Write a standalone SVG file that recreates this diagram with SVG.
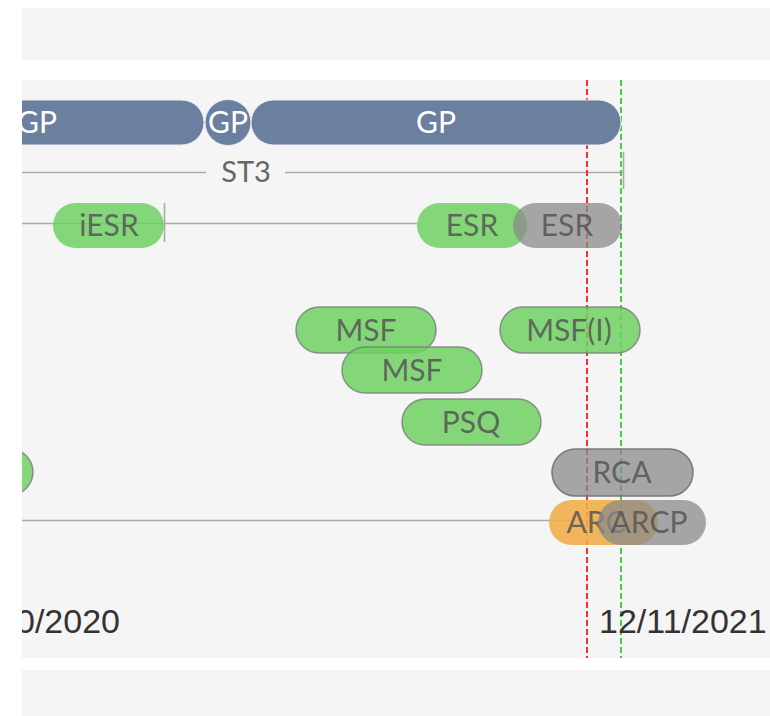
<svg xmlns="http://www.w3.org/2000/svg" width="770" height="716" viewBox="0 0 770 716">
<defs>
<clipPath id="panel"><rect x="22" y="80" width="748" height="578"/></clipPath>
<style>
.panel{fill:#f5f5f5}
.gp{fill:#6b7f9e;stroke:#e8ecf2;stroke-width:1}
.gpt{font-family:Lato,"Open Sans",sans-serif;font-size:30px;fill:#ffffff;text-anchor:middle}
.lbl{font-family:Lato,"Open Sans",sans-serif;font-size:30px;fill:#555555;fill-opacity:0.85;text-anchor:middle}
.st{font-family:Lato,"Open Sans",sans-serif;font-size:29px;fill:#666;text-anchor:middle}
.green{fill:#6fd162;fill-opacity:0.85}
.greenb{fill:#6fd162;fill-opacity:0.85;stroke:#7a7a7a;stroke-opacity:0.8;stroke-width:1.5}
.gray{fill:#8a8a8a;fill-opacity:0.75}
.grayb{fill:#8a8a8a;fill-opacity:0.75;stroke:#7a7a7a;stroke-width:1.5}
.orange{fill:#f0ad45;fill-opacity:0.88}
.tl{stroke:#aaaaaa;stroke-width:1.6;fill:none}
.date{font-family:"Liberation Sans",Arial,sans-serif;font-size:34px;fill:#333333}
</style>
</defs>
<rect class="panel" x="22" y="8" width="748" height="52"/>
<rect class="panel" x="22" y="80" width="748" height="578"/>
<rect class="panel" x="22" y="670" width="748" height="46"/>
<g clip-path="url(#panel)">
<g id="connectors">
<line class="tl" x1="22" y1="172.5" x2="206" y2="172.5"/>
<line class="tl" x1="285" y1="172.5" x2="623" y2="172.5"/>
<line class="tl" x1="623.5" y1="152" x2="623.5" y2="189"/>
<line class="tl" x1="22" y1="223.5" x2="417" y2="223.5"/>
<line class="tl" x1="164.5" y1="203" x2="164.5" y2="242"/>
<line class="tl" x1="22" y1="520.5" x2="612" y2="520.5"/>
<line x1="587" y1="80" x2="587" y2="658" stroke="#ff2a2a" stroke-width="2" stroke-dasharray="6 3"/>
<line x1="621" y1="80" x2="621" y2="658" stroke="#44cc44" stroke-width="2" stroke-dasharray="6 3"/>
</g>
<g id="gp1"><rect class="gp" x="-130" y="100" width="334" height="45" rx="22.5"/><text class="gpt" x="37" y="133">GP</text></g>
<g id="gp2"><circle class="gp" cx="228" cy="122.5" r="23"/><text class="gpt" x="228" y="133">GP</text></g>
<g id="gp3"><rect class="gp" x="251" y="100" width="370" height="45" rx="22.5"/><text class="gpt" x="436" y="133">GP</text></g>
<g id="st3"><text class="st" x="246" y="182">ST3</text></g>
<g id="iesr"><rect class="green" x="53" y="203" width="111" height="45" rx="22.5"/><text class="lbl" x="109" y="236">iESR</text></g>
<g id="esr1"><rect class="green" x="417" y="203" width="110" height="45" rx="22.5"/><text class="lbl" x="472" y="236">ESR</text></g>
<g id="esr2"><rect class="gray" x="513" y="203" width="109" height="45" rx="22.5"/><text class="lbl" x="567" y="236">ESR</text></g>
<g id="msf1"><rect class="greenb" x="296" y="307" width="140" height="46" rx="23"/><text class="lbl" x="366" y="341">MSF</text></g>
<g id="msf2"><rect class="greenb" x="342" y="347" width="140" height="46" rx="23"/><text class="lbl" x="412" y="381">MSF</text></g>
<g id="psq"><rect class="greenb" x="402" y="399" width="139" height="46" rx="23"/><text class="lbl" x="471" y="433">PSQ</text></g>
<g id="msfi"><rect class="greenb" x="500" y="307" width="140" height="46" rx="23"/><text class="lbl" x="569" y="341">MSF(I)</text></g>
<g id="leftpill"><rect class="greenb" x="-110" y="449" width="143" height="46" rx="23"/></g>
<g id="rca"><rect class="grayb" x="552" y="449" width="141" height="47" rx="23.5"/><text class="lbl" x="622" y="483">RCA</text></g>
<g id="arc"><rect class="orange" x="549" y="500" width="109" height="45" rx="22.5"/><text class="lbl" x="596" y="533">ARC</text></g>
<g id="arcp"><rect class="gray" x="598" y="500" width="108" height="45" rx="22.5"/><text class="lbl" x="649" y="533">ARCP</text></g>
<g id="dates">
<text class="date" x="16" y="633">0/2020</text>
<text class="date" x="599" y="633">12/11/2021</text>
</g>
</g>
</svg>
